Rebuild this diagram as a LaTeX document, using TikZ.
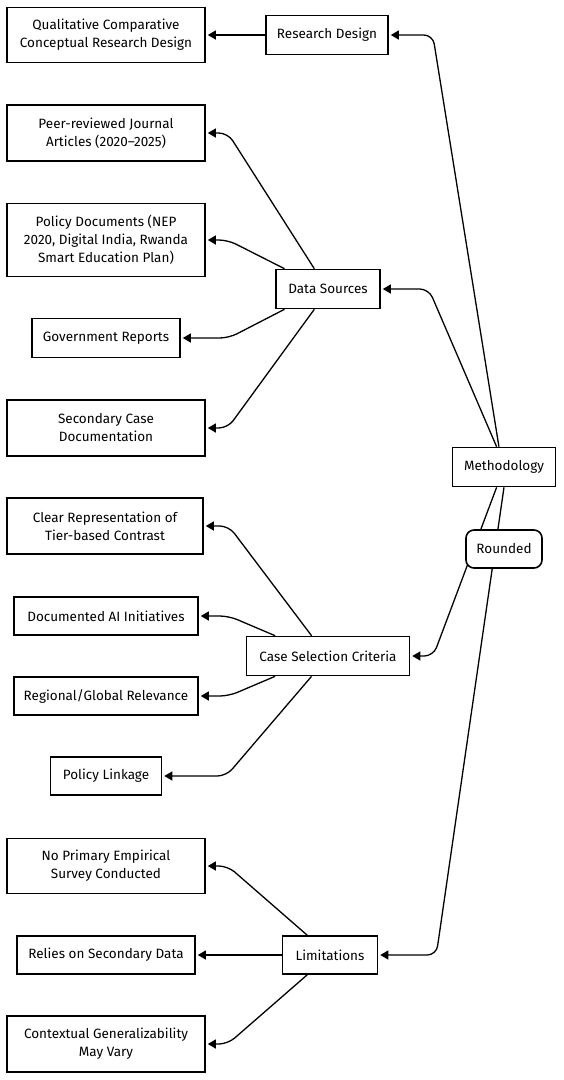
\documentclass[tikz,border=0pt]{standalone}
\usepackage{fontspec}
\setmainfont{Fira Sans}
\usetikzlibrary{arrows.meta}

\begin{document}
\begin{tikzpicture}
[x=1pt,y=-1pt,
 boxDecorate/.style={shape=rectangle,draw,line width=1.6pt,fill=white,align=center,
   inner sep=2pt,font=\fontsize{13.5}{18}\selectfont},
 EdgeStyle/.style={-{Triangle[length=8pt,width=9pt]},line width=1.3pt,
   rounded corners=9pt,shorten >=2pt}]
\useasboundingbox (0,0) rectangle (563,1080);
%% nodes or vertices
\node (meth)  at (504,467)  [boxDecorate,minimum width=103,minimum height=39] {Methodology};
\node (rd)    at (327,35)   [boxDecorate,minimum width=122,minimum height=39] {Research Design};
\node (qual)  at (106,35)   [boxDecorate,minimum width=198,minimum height=55] {Qualitative Comparative\\Conceptual Research Design};
\node (ds)    at (328,289)  [boxDecorate,minimum width=104,minimum height=39] {Data Sources};
\node (peer)  at (106,133)  [boxDecorate,minimum width=198,minimum height=56] {Peer-reviewed Journal\\Articles (2020–2025)};
\node (pol)   at (106,240)  [boxDecorate,minimum width=198,minimum height=73] {Policy Documents (NEP\\2020, Digital India, Rwanda\\Smart Education Plan)};
\node (gov)   at (106,338)  [boxDecorate,minimum width=148,minimum height=39] {Government Reports};
\node (sec)   at (106,428)  [boxDecorate,minimum width=198,minimum height=56] {Secondary Case\\Documentation};
\node (csc)   at (328,656)  [boxDecorate,minimum width=163,minimum height=39] {Case Selection Criteria};
\node (clear) at (105,526)  [boxDecorate,minimum width=196,minimum height=56] {Clear Representation of\\Tier-based Contrast};
\node (doc)   at (106,616)  [boxDecorate,minimum width=184,minimum height=38] {Documented AI Initiatives};
\node (reg)   at (106,696)  [boxDecorate,minimum width=184,minimum height=38] {Regional/Global Relevance};
\node (link)  at (106,776)  [boxDecorate,minimum width=111,minimum height=38] {Policy Linkage};
\node (lim)   at (330,955)  [boxDecorate,minimum width=95,minimum height=38] {Limitations};
\node (nop)   at (106,866)  [boxDecorate,minimum width=198,minimum height=55] {No Primary Empirical\\Survey Conducted};
\node (rel)   at (106,955)  [boxDecorate,minimum width=178,minimum height=38] {Relies on Secondary Data};
\node (ctx)   at (106,1044) [boxDecorate,minimum width=198,minimum height=56] {Contextual Generalizability\\May Vary};
%% edges or lines
\foreach \from/\to/\dx in {
  meth.104/rd/44, meth.110/ds/48, meth.250/csc/23, meth.270/lim/58,
  ds.124/peer/22, ds.155/pol/22, ds.205/gov/48, ds.236/sec/22,
  csc.129/clear/25, csc.159/doc/30, csc.201/reg/30, csc.231/link/64,
  lim.139/nop/22, lim.221/ctx/22}
{
  \draw[EdgeStyle] (\from) -- ([xshift=\dx]\to.east) -- (\to.east);
}
\draw[EdgeStyle] (rd) -- (qual);
\draw[EdgeStyle] (lim) -- (rel);
%% loose node on top
\node (rnd) at (504,549) [boxDecorate,rounded corners=8pt,minimum width=76,minimum height=38] {Rounded};
\end{tikzpicture}
\end{document}
